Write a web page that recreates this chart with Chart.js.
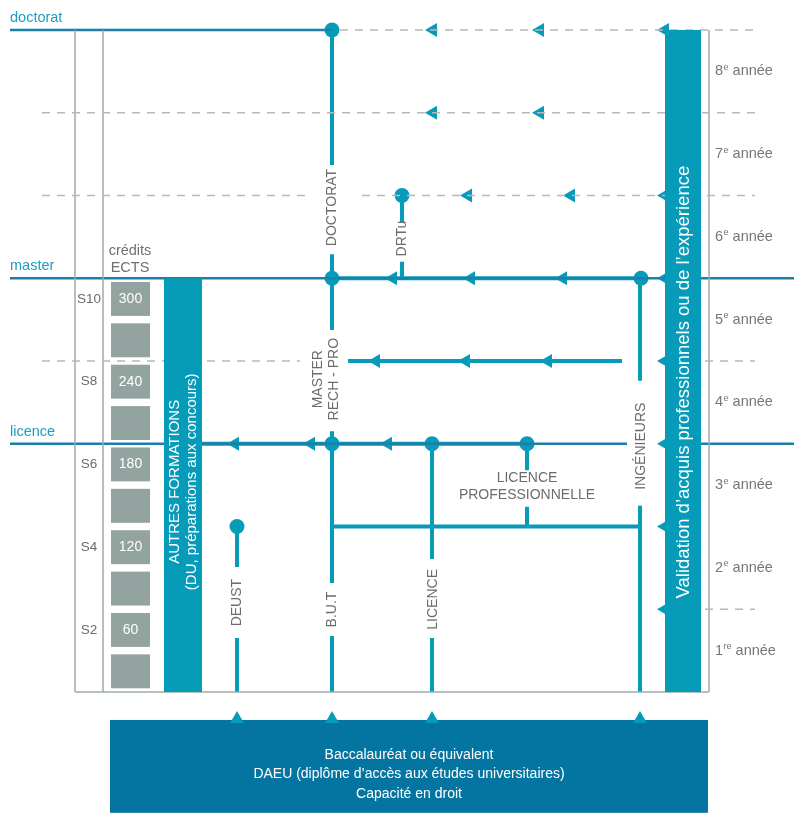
<!DOCTYPE html>
<html>
<head>
<meta charset="utf-8">
<script src="https://cdn.jsdelivr.net/npm/chart.js@4.4.0/dist/chart.umd.min.js"></script>
<style>
  html, body { margin: 0; padding: 0; background: #fff; }
  canvas { display: block; }
</style>
</head>
<body>
<canvas id="lmd" width="794" height="813"></canvas>
<script>
// années d'études (axe vertical : 0 = bac)
const yearNumbers = [1, 2, 3, 4, 5, 6, 7, 8];
const yearSuffix = ["re", "e", "e", "e", "e", "e", "e", "e"];

const levelNames = ["licence", "master", "doctorat"];
const levelYears = [3, 5, 8];

const semesterLabels = ["S2", "S4", "S6", "S8", "S10"];
const ectsCredits = [60, 120, 180, 240, 300];
const semesterCount = 10;

const trackNames = ["DOCTORAT", "DRTu", "MASTER", "RECH - PRO", "INGÉNIEURS", "DEUST", "B.U.T", "LICENCE"];
const proLabel = ["LICENCE", "PROFESSIONNELLE"];
const otherLabel = ["AUTRES FORMATIONS", "(DU, préparations aux concours)"];
const vaeLabel = "Validation d’acquis professionnels ou de l’expérience";
const bacLabel = ["Baccalauréat ou équivalent", "DAEU (diplôme d’accès aux études universitaires)", "Capacité en droit"];

// colonnes des filières
const entryColumns = [237, 332, 432, 640];

// segments des parcours [x1, année1, x2, année2]
const trackSegments = [
    [332, 8, 332, 6.37], [332, 5.29, 332, 5],
    [402, 6, 402, 5.68], [402, 5.2, 402, 5],
    [332, 5, 332, 4.375], [332, 3.15, 332, 3],
    [332, 3, 332, 1.317], [332, 0.677, 332, 0],
    [237, 2, 237, 1.51], [237, 0.653, 237, 0],
    [432, 3, 432, 1.607], [432, 0.653, 432, 0],
    [527, 3, 527, 2.68], [527, 2.24, 527, 2],
    [640, 5, 640, 3.76], [640, 2.25, 640, 0],
    [332, 2, 640, 2],
    [332, 5, 641, 5],
    [348, 4, 622, 4],
    [202, 3, 527, 3],
];
const levelSegments = [
    [10, 8, 332, 8],
    [10, 5, 794, 5],
    [10, 3, 627, 3], [701, 3, 794, 3],
];
const dashSegments = [
    [340, 8, 755, 8],
    [42, 7, 755, 7],
    [42, 6, 305, 6], [362, 6, 755, 6],
    [42, 4, 300, 4], [705, 4, 755, 4],
    [705, 1, 755, 1],
];
const frameSegments = [
    [75, 8, 75, 0], [103, 8, 103, 0], [75, 0, 709, 0], [709, 8, 709, 0],
];
const junctions = [[332, 8], [402, 6], [332, 5], [641, 5], [332, 3], [432, 3], [527, 3], [237, 2]];
const passages = [
    [433, 8], [540, 8], [665, 8],
    [433, 7], [540, 7],
    [468, 6], [571, 6], [665, 6],
    [393, 5], [471, 5], [563, 5], [665, 5],
    [376, 4], [466, 4], [548, 4], [665, 4],
    [235, 3], [311, 3], [388, 3], [665, 3],
    [665, 2], [665, 1],
];

const TEAL = "#069bb9";
const LEVEL_BLUE = "#1a80a9";
const FONT = "'Liberation Sans', Arial, sans-serif";

function toPoints(segments) {
    const pts = [];
    segments.forEach(function (s) {
        pts.push({ x: s[0], y: s[1] }, { x: s[2], y: s[3] }, { x: s[2], y: null });
    });
    return pts;
}

function lineSet(segments, color, width, dash) {
    return {
        data: toPoints(segments),
        showLine: true,
        spanGaps: false,
        borderColor: color,
        borderWidth: width,
        borderDash: dash || [],
        pointRadius: 0,
        pointHoverRadius: 0,
    };
}

function text(ctx, str, px, py, font, color, rotate, align, baseline) {
    ctx.save();
    ctx.translate(px, py);
    if (rotate) ctx.rotate(-Math.PI / 2);
    ctx.font = font;
    ctx.fillStyle = color;
    ctx.textAlign = align || "center";
    ctx.textBaseline = baseline || "middle";
    ctx.fillText(str, 0, 0);
    ctx.restore();
}

const diagram = {
    id: "diagram",
    beforeDatasetsDraw(chart) {
        const ctx = chart.ctx;
        const x = chart.scales.x;
        const y = chart.scales.y;
        ctx.save();
        ctx.fillStyle = "#93a39f";
        for (let k = 1; k <= semesterCount; k++) {
            const top = y.getPixelForValue((k - 1) / 2 + 0.455);
            const bottom = y.getPixelForValue((k - 1) / 2 + 0.045);
            ctx.fillRect(x.getPixelForValue(111), top, x.getPixelForValue(150) - x.getPixelForValue(111), bottom - top);
        }
        ctx.fillStyle = "#0474a0";
        const bt = y.getPixelForValue(-0.338);
        ctx.fillRect(x.getPixelForValue(110), bt, x.getPixelForValue(708) - x.getPixelForValue(110), y.getPixelForValue(-1.46) - bt);
        ctx.restore();
    },
    afterDatasetsDraw(chart) {
        const ctx = chart.ctx;
        const x = chart.scales.x;
        const y = chart.scales.y;
        ctx.save();
        ctx.fillStyle = TEAL;
        ctx.fillRect(x.getPixelForValue(164), y.getPixelForValue(5), x.getPixelForValue(202) - x.getPixelForValue(164), y.getPixelForValue(0) - y.getPixelForValue(5));
        ctx.fillRect(x.getPixelForValue(665), y.getPixelForValue(8), x.getPixelForValue(701) - x.getPixelForValue(665), y.getPixelForValue(0) - y.getPixelForValue(8));
        ctx.restore();

        const grey = "#6c6c6c";
        const f14 = "14px " + FONT;

        // niveaux
        levelNames.forEach(function (n, i) {
            text(ctx, n, x.getPixelForValue(10), y.getPixelForValue(levelYears[i]) - 8, "14.5px " + FONT, "#1e9cc2", false, "left", "alphabetic");
        });

        // années
        yearNumbers.forEach(function (n, i) {
            const px = x.getPixelForValue(715);
            const py = y.getPixelForValue(n - 0.5);
            ctx.save();
            ctx.fillStyle = "#767676";
            ctx.textBaseline = "middle";
            ctx.textAlign = "left";
            ctx.font = "14.5px " + FONT;
            ctx.fillText(String(n), px, py);
            let w = ctx.measureText(String(n)).width;
            ctx.font = "9px " + FONT;
            ctx.fillText(yearSuffix[i], px + w + 0.5, py - 4);
            w += ctx.measureText(yearSuffix[i]).width + 0.5;
            ctx.font = "14.5px " + FONT;
            ctx.fillText(" année", px + w, py);
            ctx.restore();
        });

        // crédits ECTS et semestres
        text(ctx, "crédits", x.getPixelForValue(130), y.getPixelForValue(5.33), "14.5px " + FONT, "#707070");
        text(ctx, "ECTS", x.getPixelForValue(130), y.getPixelForValue(5.12), "14.5px " + FONT, "#707070");
        ectsCredits.forEach(function (c, i) {
            const yr = (2 * i + 1) / 2 + 0.25;
            text(ctx, String(c), x.getPixelForValue(130.5), y.getPixelForValue(yr), f14, "#ffffff");
            text(ctx, semesterLabels[i], x.getPixelForValue(89), y.getPixelForValue(yr), "13.5px " + FONT, grey);
        });

        // filières
        const trackPos = [[332, 5.855], [402.5, 5.48], [318, 3.78], [334.5, 3.78], [641, 2.97], [237.5, 1.08], [332.5, 0.997], [433, 1.12]];
        trackNames.forEach(function (n, i) {
            text(ctx, n, x.getPixelForValue(trackPos[i][0]), y.getPixelForValue(trackPos[i][1]), f14, grey, true);
        });
        text(ctx, proLabel[0], x.getPixelForValue(527), y.getPixelForValue(2.586), f14, grey);
        text(ctx, proLabel[1], x.getPixelForValue(527), y.getPixelForValue(2.38), f14, grey);

        text(ctx, otherLabel[0], x.getPixelForValue(175), y.getPixelForValue(2.54), "15px " + FONT, "#ffffff", true);
        text(ctx, otherLabel[1], x.getPixelForValue(192), y.getPixelForValue(2.54), "15px " + FONT, "#ffffff", true);
        text(ctx, vaeLabel, x.getPixelForValue(684), y.getPixelForValue(3.745), "18.5px " + FONT, "#ffffff", true);

        bacLabel.forEach(function (l, i) {
            text(ctx, l, x.getPixelForValue(409), y.getPixelForValue(-0.76 - i * 0.235), f14, "#ffffff");
        });
    },
};

const data = {
    datasets: [
        lineSet(dashSegments, "#b8b8b8", 1.5, [8, 7]),
        lineSet(frameSegments, "#9cadaa", 1.5),
        lineSet(levelSegments, LEVEL_BLUE, 2.5),
        lineSet(trackSegments, TEAL, 4),
        {
            data: junctions.map(function (p) { return { x: p[0], y: p[1] }; }),
            pointRadius: 7.5,
            pointBackgroundColor: TEAL,
            pointBorderWidth: 0,
        },
        {
            data: passages.map(function (p) { return { x: p[0], y: p[1] }; }),
            pointStyle: "triangle",
            rotation: -90,
            pointRadius: 8,
            pointBackgroundColor: TEAL,
            pointBorderWidth: 0,
        },
        {
            data: entryColumns.map(function (c) { return { x: c, y: -0.326 }; }),
            pointStyle: "triangle",
            rotation: 0,
            pointRadius: 8,
            pointBackgroundColor: TEAL,
            pointBorderWidth: 0,
        },
    ],
};

const config = {
    type: "scatter",
    data: data,
    options: {
        responsive: false,
        animation: false,
        events: [],
        layout: { padding: 0, autoPadding: false },
        scales: {
            x: { type: "linear", min: 0, max: 794, display: false },
            y: { type: "linear", min: -1.4622, max: 8.3625, display: false },
        },
        plugins: {
            legend: { display: false },
            tooltip: { enabled: false },
        },
    },
    plugins: [diagram],
};

const lmdChart = new Chart(document.getElementById("lmd"), config);
</script>
</body>
</html>
